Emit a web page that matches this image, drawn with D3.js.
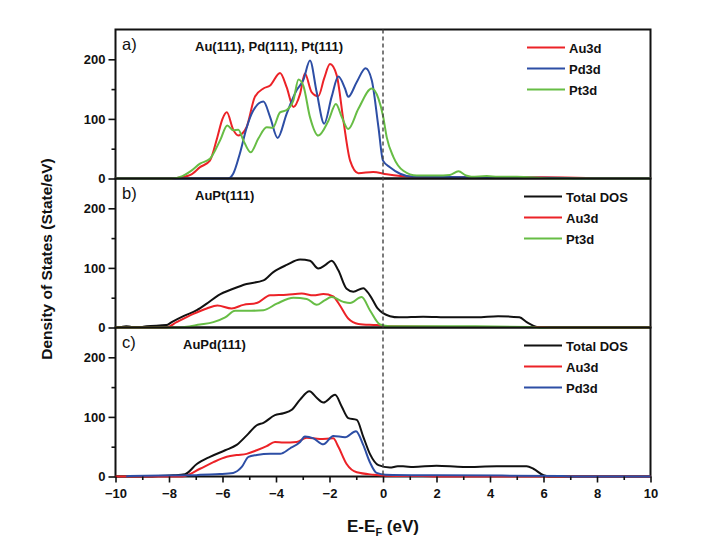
<!DOCTYPE html>
<html>
<head>
<meta charset="utf-8">
<script src="https://cdn.jsdelivr.net/npm/d3@7"></script>
<style>
  html, body { margin: 0; padding: 0; background: #ffffff; }
  svg { display: block; font-family: "Liberation Sans", Arial, sans-serif; }
  .tick text { font-weight: bold; font-size: 13px; fill: #111; }
  .tick line { stroke: #111; stroke-width: 1.6; }
</style>
</head>
<body>
<svg id="chart" width="708" height="545"></svg>
<script>
// Energy axis (E - E_F, eV) tick values
const xMajorTicks = [-10, -8, -6, -4, -2, 0, 2, 4, 6, 8, 10];
const xMinorTicks = [-9, -7, -5, -3, -1, 1, 3, 5, 7, 9];
const yMajorTicks = [0, 100, 200];
const yMinorTicks = [50, 150];

// Panel a) pure metals: [energy, DOS]
const aAu3d = [[-10,0],[-8,0],[-7.7,1],[-7.2,6],[-6.84,19],[-6.47,30],[-6.2,68],[-6.0,100],[-5.84,111],[-5.6,82],[-5.41,72],[-5.25,76],[-5.1,86],[-4.79,137],[-4.47,151],[-4.22,156],[-3.85,177],[-3.6,153],[-3.35,120],[-3.1,142],[-2.92,176],[-2.67,145],[-2.42,138],[-2.2,168],[-1.98,192],[-1.73,173],[-1.48,97],[-1.23,30],[-0.92,9],[-0.37,11],[0.14,7],[1.1,3],[3,2],[6,2],[7.6,1],[8,0],[10,0]];
const aPd3d = [[-10,0],[-5.8,0],[-5.6,8],[-5.35,42],[-5.1,85],[-4.85,114],[-4.47,129],[-4.22,103],[-3.94,68],[-3.6,109],[-3.23,148],[-2.98,165],[-2.73,198],[-2.48,145],[-2.2,92],[-1.92,137],[-1.67,171],[-1.42,151],[-1.3,137],[-0.98,162],[-0.65,185],[-0.42,165],[-0.17,86],[0,30],[0.26,19],[0.64,8],[1.1,3],[4,2],[6.9,1],[7.2,0],[10,0]];
const aPt3d = [[-10,0],[-7.9,0],[-7.5,4],[-7.2,12],[-6.84,25],[-6.47,33],[-6.09,64],[-5.82,89],[-5.6,81],[-5.41,82],[-5.22,64],[-4.95,44],[-4.66,67],[-4.35,86],[-4.12,85],[-3.85,111],[-3.6,115],[-3.35,131],[-3.16,166],[-2.98,156],[-2.73,103],[-2.42,72],[-2.04,97],[-1.76,125],[-1.54,103],[-1.3,83],[-0.92,117],[-0.42,151],[-0.17,134],[0,105],[0.14,69],[0.39,36],[0.76,13],[1.26,5],[2.0,5],[2.5,6],[2.82,12],[3.1,5],[3.3,3],[3.88,4],[4.3,3],[5.0,3],[5.9,1],[6.3,0],[10,0]];

// Panel b) AuPt(111)
const bTotal = [[-10,0],[-9.8,1],[-9.6,2],[-9.4,1],[-9.0,1],[-8.84,2],[-8.1,4],[-7.9,9],[-7.46,19],[-6.96,29],[-6.59,40],[-6.16,54],[-5.6,65],[-5.1,73],[-4.47,79],[-4.1,93],[-3.6,105],[-3.1,114],[-2.73,112],[-2.42,99],[-2.15,105],[-1.92,112],[-1.67,96],[-1.36,65],[-1.11,60],[-0.74,66],[-0.49,54],[-0.2,32],[0,24],[0.26,19],[0.6,17],[1.5,18],[2.5,17],[3.5,17],[4.3,19],[5.1,17],[5.37,9],[5.75,1],[6,0],[10,0]];
const bAu3d = [[-10,0],[-8.1,0],[-7.72,9],[-7.09,23],[-6.59,32],[-6.19,37],[-5.66,32],[-5.22,38],[-4.72,41],[-4.22,54],[-3.6,55],[-3.04,57],[-2.6,54],[-2.23,56],[-1.86,52],[-1.61,37],[-1.3,15],[-0.92,6],[-0.24,4],[0.26,2],[3,1],[6,1],[6.3,0],[10,0]];
const bPt3d = [[-10,0],[-7.7,0],[-6.84,5],[-6.34,9],[-5.9,17],[-5.53,28],[-5.1,28],[-4.47,29],[-3.97,40],[-3.35,50],[-2.85,48],[-2.48,38],[-2.2,45],[-1.92,51],[-1.48,43],[-1.23,41],[-0.8,51],[-0.49,29],[-0.11,5],[0.26,2],[3,2],[5.5,1],[5.8,0],[10,0]];

// Panel c) AuPd(111)
const cTotal = [[-10,0],[-8.7,0],[-8.4,1],[-7.84,2],[-7.4,4],[-6.96,21],[-6.47,33],[-5.9,44],[-5.47,53],[-5.03,72],[-4.72,86],[-4.47,90],[-4.04,103],[-3.72,106],[-3.41,112],[-3.1,129],[-2.75,143],[-2.48,132],[-2.23,124],[-1.79,137],[-1.54,117],[-1.3,98],[-0.98,95],[-0.74,67],[-0.49,38],[-0.17,19],[0.26,15],[0.55,17],[0.75,17],[1.13,16],[2.0,18],[3.0,16],[4.25,17],[5.37,17],[5.62,13],[6.0,2],[6.2,0],[10,0]];
const cAu3d = [[-10,0],[-7.6,0],[-7.4,1],[-6.84,13],[-6.34,24],[-5.84,33],[-5.47,36],[-5.1,38],[-4.72,44],[-4.35,51],[-4.04,58],[-3.72,57],[-3.23,58],[-2.85,65],[-2.36,63],[-1.86,64],[-1.67,50],[-1.36,21],[-0.98,7],[-0.35,3],[0.5,1],[1.5,1],[2,0],[10,0]];
const cPd3d = [[-9.6,0],[-9.5,1],[-7,2],[-6.84,3],[-6.1,4],[-5.6,6],[-5.28,16],[-5.03,33],[-4.72,36],[-4.22,38],[-3.85,38],[-3.48,47],[-3.1,58],[-2.92,67],[-2.6,64],[-2.23,54],[-1.86,68],[-1.42,66],[-1.01,76],[-0.74,53],[-0.49,24],[-0.24,6],[0.1,3],[2,2],[6.7,1],[7,0],[10,0]];

const COLORS = { total: "#111111", au: "#ec2227", pd: "#2d4ea5", pt: "#67bd45" };

const panels = [
  { tag: "a)", title: "Au(111), Pd(111), Pt(111)", titleX: 195,
    series: [ { name: "Au3d", data: aAu3d, color: COLORS.au },
              { name: "Pd3d", data: aPd3d, color: COLORS.pd },
              { name: "Pt3d", data: aPt3d, color: COLORS.pt } ] },
  { tag: "b)", title: "AuPt(111)", titleX: 195,
    series: [ { name: "Total DOS", data: bTotal, color: COLORS.total },
              { name: "Au3d", data: bAu3d, color: COLORS.au },
              { name: "Pt3d", data: bPt3d, color: COLORS.pt } ] },
  { tag: "c)", title: "AuPd(111)", titleX: 183,
    series: [ { name: "Total DOS", data: cTotal, color: COLORS.total },
              { name: "Au3d", data: cAu3d, color: COLORS.au },
              { name: "Pd3d", data: cPd3d, color: COLORS.pd } ] }
];

const svg = d3.select("#chart");
const plotLeft = 115.5, plotRight = 650.5, plotTop = 29.5, panelH = 149;
const x = d3.scaleLinear().domain([-10, 10]).range([plotLeft, plotRight]);

panels.forEach((p, i) => {
  const y0 = plotTop + i * panelH;
  const y = d3.scaleLinear().domain([0, 250]).range([y0 + panelH, y0]);
  const g = svg.append("g");

  // left axis: labelled major ticks and short minor ticks
  const ax = g.append("g").attr("transform", `translate(${plotLeft},0)`)
    .call(d3.axisLeft(y).tickValues(yMajorTicks).tickSize(7).tickPadding(3));
  ax.select(".domain").remove();
  const axm = g.append("g").attr("transform", `translate(${plotLeft},0)`)
    .call(d3.axisLeft(y).tickValues(yMinorTicks).tickSize(4).tickFormat(""));
  axm.select(".domain").remove();

  // panel frame
  g.append("rect").attr("x", plotLeft).attr("y", y0)
    .attr("width", plotRight - plotLeft).attr("height", panelH)
    .attr("fill", "none").attr("stroke", "#111").attr("stroke-width", 2);

  // DOS curves
  const line = d3.line().x(d => x(d[0])).y(d => y(d[1])).curve(d3.curveMonotoneX);
  p.series.forEach(s => {
    g.append("path").datum(s.data)
      .attr("d", line).attr("fill", "none")
      .attr("stroke", s.color).attr("stroke-width", 2)
      .attr("stroke-linejoin", "round");
  });

  // panel tag and system name
  g.append("text").attr("x", 122).attr("y", y0 + 20)
    .attr("font-size", 16.5).attr("fill", "#111").text(p.tag);
  g.append("text").attr("x", p.titleX).attr("y", y0 + 21.5)
    .attr("font-size", 13).attr("font-weight", "bold").attr("fill", "#111").text(p.title);

  // legend
  p.series.forEach((s, k) => {
    const ly = y0 + 18 + k * 21;
    const lx0 = p.series[0].name === "Total DOS" ? 524 : 527;
    g.append("line").attr("x1", lx0).attr("x2", lx0 + 38)
      .attr("y1", ly).attr("y2", ly)
      .attr("stroke", s.color).attr("stroke-width", 2.2);
    g.append("text").attr("x", lx0 + 42).attr("y", ly + 5)
      .attr("font-size", 13).attr("font-weight", "bold").attr("fill", "#111").text(s.name);
  });
});

const plotBottom = plotTop + 3 * panelH;

// Fermi level marker
svg.append("line").attr("x1", x(0)).attr("x2", x(0))
  .attr("y1", plotTop).attr("y2", plotBottom)
  .attr("stroke", "#444").attr("stroke-width", 1.4).attr("stroke-dasharray", "4,3");

// energy axis
const xa = svg.append("g").attr("transform", `translate(0,${plotBottom})`)
  .call(d3.axisBottom(x).tickValues(xMajorTicks).tickSize(6).tickPadding(6));
xa.select(".domain").remove();
const xm = svg.append("g").attr("transform", `translate(0,${plotBottom})`)
  .call(d3.axisBottom(x).tickValues(xMinorTicks).tickSize(3.5).tickFormat(""));
xm.select(".domain").remove();

// axis titles
const xt = svg.append("text").attr("x", (plotLeft + plotRight) / 2).attr("y", 532)
  .attr("text-anchor", "middle").attr("font-size", 17).attr("font-weight", "bold").attr("fill", "#111");
xt.append("tspan").text("E-E");
xt.append("tspan").attr("font-size", 11).attr("dy", 4).text("F");
xt.append("tspan").attr("dy", -4).text(" (eV)");

svg.append("text")
  .attr("transform", `translate(52,${(plotTop + plotBottom) / 2 + 6}) rotate(-90)`)
  .attr("text-anchor", "middle").attr("font-size", 15.5).attr("font-weight", "bold").attr("fill", "#111")
  .text("Density of States (State/eV)");
</script>
</body>
</html>
